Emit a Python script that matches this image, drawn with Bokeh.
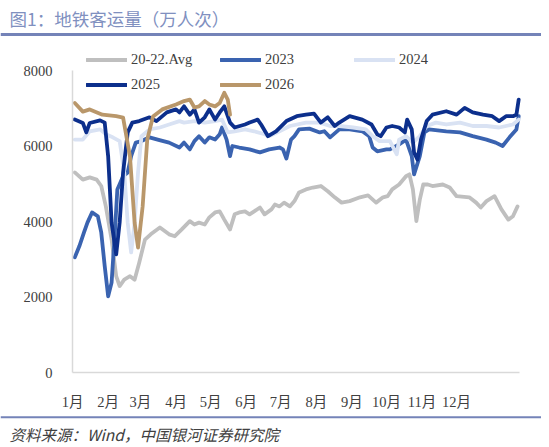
from bokeh.plotting import figure
from bokeh.models import (Range1d, Legend, LegendItem, BoxAnnotation, FixedTicker,
                          NumeralTickFormatter, LinearAxis, Label)
from bokeh.embed import file_html
from bokeh.resources import INLINE

# ---------------- data ----------------
month_days = [0, 31, 59, 90, 120, 151, 181, 212, 243, 273, 304, 334]
month_labels = ["1月", "2月", "3月", "4月", "5月", "6月", "7月", "8月", "9月", "10月", "11月", "12月"]
y_ticks = [0, 2000, 4000, 6000, 8000]
x_extent = (0, 389)
y_extent = (0, 8000)

series_names = ["20-22.Avg", "2023", "2024", "2025", "2026"]

avg_days = [2, 9, 15, 21, 25, 29, 34, 38, 41, 45, 50, 54, 58, 63, 68, 76, 84, 89, 95, 102,
            106, 110, 115, 119, 124, 128, 132, 137, 141, 145, 150, 154, 158, 163, 167, 173, 176, 180, 184, 189,
            193, 197, 203, 209, 216, 222, 228, 234, 241, 250, 257, 264, 270, 274, 278, 284, 290, 293, 296, 299,
            302, 305, 309, 313, 322, 328, 334, 345, 351, 355, 360, 367, 373, 379, 383, 387]
avg_vals = [5300, 5110, 5170, 5110, 4940, 4400, 3520, 2550, 2290, 2460, 2550, 2460, 2910, 3520, 3660, 3840, 3660, 3610, 3790, 4010,
            3920, 3970, 3920, 4110, 4240, 4270, 4050, 3790, 4190, 4240, 4270, 4190, 4270, 4370, 4190, 4320, 4450, 4400, 4500, 4400,
            4540, 4770, 4850, 4900, 4940, 4800, 4640, 4500, 4540, 4640, 4690, 4500, 4640, 4670, 4850, 4980, 5200, 5250, 4850, 4010,
            4580, 4980, 4980, 4940, 4980, 4900, 4670, 4640, 4500, 4370, 4540, 4670, 4320, 4050, 4140, 4400]

y2023_days = [2, 6, 10, 13, 17, 22, 25, 28, 31, 34, 37, 39, 44, 48, 51, 55, 60, 67, 74, 84,
              93, 97, 102, 106, 110, 115, 119, 124, 128, 130, 134, 137, 139, 145, 154, 163, 171, 180, 183, 186,
              190, 193, 197, 206, 215, 219, 224, 232, 241, 252, 258, 261, 265, 273, 276, 284, 290, 295, 297, 302,
              306, 310, 325, 337, 348, 360, 368, 374, 380, 386, 388]
y2023_vals = [3050, 3350, 3710, 3970, 4240, 4140, 3710, 2820, 2020, 2380, 3790, 4850, 5200, 5300, 5730, 6090, 6130, 6230, 6170, 6090,
              5960, 6090, 5910, 6130, 6260, 6090, 6230, 6170, 6310, 6490, 6170, 5730, 6000, 5960, 5910, 5830, 5910, 5960, 5910, 5670,
              6170, 6260, 6440, 6460, 6360, 6390, 6230, 6440, 6440, 6390, 6260, 5960, 5860, 5910, 5910, 6040, 6170, 5730, 5250, 5730,
              6360, 6440, 6390, 6360, 6260, 6170, 6090, 6000, 6230, 6440, 6790]

y2024_days = [2, 9, 15, 24, 29, 35, 41, 45, 48, 51, 54, 57, 60, 67, 76, 84, 93, 97, 106, 115,
              124, 130, 135, 141, 150, 158, 167, 171, 180, 189, 203, 215, 224, 232, 244, 255, 261, 267, 276, 282,
              284, 290, 296, 302, 308, 316, 325, 337, 348, 360, 371, 383, 388]
y2024_vals = [6170, 6170, 6390, 6440, 6310, 6230, 6130, 5300, 3970, 3180, 3970, 5300, 6260, 6440, 6490, 6570, 6660, 6620, 6660, 6620,
              6660, 6700, 6360, 6390, 6440, 6390, 6310, 6260, 6390, 6530, 6620, 6620, 6530, 6530, 6490, 6440, 6260, 6130, 6130, 5780,
              6170, 6260, 6090, 6260, 6530, 6620, 6570, 6620, 6530, 6530, 6490, 6570, 6700]

y2025_days = [2, 9, 12, 15, 24, 28, 31, 34, 38, 41, 44, 48, 52, 58, 67, 73, 82, 90, 93, 97,
              102, 106, 110, 115, 119, 124, 128, 132, 137, 141, 150, 154, 161, 164, 170, 177, 186, 195, 203, 210,
              216, 222, 228, 232, 241, 252, 260, 265, 268, 273, 278, 284, 289, 291, 295, 297, 300, 303, 308, 313,
              325, 334, 341, 348, 357, 365, 371, 377, 383, 386, 388]
y2025_vals = [6700, 6610, 6360, 6610, 6680, 6620, 5730, 3970, 3130, 3970, 5300, 6360, 6620, 6660, 6760, 6660, 6890, 6970, 6890, 7050,
              6830, 6970, 6620, 6760, 6970, 6700, 6890, 7050, 6620, 6490, 6570, 6620, 6700, 6570, 6260, 6390, 6660, 6790, 6830, 6860,
              6620, 6760, 6530, 6620, 6790, 6700, 6570, 6310, 6260, 6490, 6530, 6490, 6360, 6700, 6440, 5830, 5640, 6170, 6660, 6830,
              6920, 6830, 7010, 6890, 6830, 6790, 6660, 6790, 6790, 6830, 7230]

y2026_days = [2, 9, 15, 26, 38, 44, 50, 54, 57, 61, 65, 70, 78, 90, 97, 102, 106, 110, 115, 119,
              124, 128, 132, 135, 137]
y2026_vals = [7140, 6910, 6970, 6830, 6790, 6750, 5720, 3970, 3310, 4400, 6170, 6780, 6970, 7100, 7190, 7230, 7020, 7050, 7190, 7100,
              7050, 7140, 7410, 7230, 6830]

title_text = "图1：地铁客运量（万人次）"
source_text = "资料来源：Wind，中国银河证券研究院"

# ---------------- layout / style ----------------
W, H = 541, 445                    # canvas size
ORIGIN_CX, ORIGIN_CY = 72, 372     # canvas pixel of (day 0, value 0)
PX_PER_DAY = 1.15
PX_PER_UNIT = 302 / 8000.0

def dx(cx):
    return (cx - ORIGIN_CX) / PX_PER_DAY

def dy(cy):
    return (ORIGIN_CY - cy) / PX_PER_UNIT

colors = ["#bfbfbf", "#3a63b0", "#d9e2f3", "#0c2f8c", "#b9976a"]
SERIF = "Liberation Serif, Noto Sans CJK SC"
CJK = "Noto Sans CJK SC"
TXT = "#404040"
RULE = "#7483b8"

p = figure(width=W, height=H, x_range=Range1d(dx(0), dx(W)), y_range=Range1d(dy(H), dy(0)),
           x_axis_type=None, y_axis_type=None, output_backend="svg", toolbar_location=None,
           min_border=0)
p.outline_line_color = None
p.grid.visible = False
p.background_fill_color = "white"
p.border_fill_color = "white"

xaxis = LinearAxis(fixed_location=0, bounds=x_extent, ticker=FixedTicker(ticks=month_days))
xaxis.major_label_overrides = {d: lab for d, lab in zip(month_days, month_labels)}
xaxis.major_label_standoff = 21
yaxis = LinearAxis(fixed_location=0, bounds=y_extent, ticker=FixedTicker(ticks=y_ticks),
                   formatter=NumeralTickFormatter(format="0"))
yaxis.major_label_standoff = 20
for ax in (xaxis, yaxis):
    ax.axis_line_color = "#d9d9d9"
    ax.axis_line_width = 1.5
    ax.major_tick_line_color = None
    ax.minor_tick_line_color = None
    ax.major_tick_out = 0
    ax.major_tick_in = 0
    ax.major_label_text_font = SERIF
    ax.major_label_text_font_size = "14.5px"
    ax.major_label_text_color = TXT
p.add_layout(xaxis, "below")
p.add_layout(yaxis, "left")

all_days = [avg_days, y2023_days, y2024_days, y2025_days, y2026_days]
all_vals = [avg_vals, y2023_vals, y2024_vals, y2025_vals, y2026_vals]

items = []
for name, xs, ys, c in zip(series_names, all_days, all_vals, colors):
    r = p.line(xs, ys, line_color=c, line_width=3.8, line_join="round", line_cap="round")
    items.append(LegendItem(label=name, renderers=[r]))

legend = Legend(items=items, orientation="horizontal", ncols=3,
                location=(86, H - 94.5), padding=0, margin=0, spacing=4,
                glyph_width=41, glyph_height=21, label_standoff=4, label_width=85, label_height=21,
                label_text_font=SERIF, label_text_font_size="14.5px", label_text_color=TXT,
                background_fill_alpha=0, border_line_color=None)
p.add_layout(legend, "center")

# title, source and separator rules
p.add_layout(Label(x=dx(9), y=dy(18), text=title_text, text_font=CJK, text_font_size="17.5px",
                   text_color="#8090bf", text_baseline="middle", text_align="left"))
p.add_layout(BoxAnnotation(top=dy(32.5), bottom=dy(35.5), fill_color=RULE, fill_alpha=1, line_color=None))
p.add_layout(BoxAnnotation(top=dy(415.7), bottom=dy(417.7), fill_color=RULE, fill_alpha=1, line_color=None))
p.add_layout(Label(x=dx(9), y=dy(433.5), text=source_text, text_font=CJK, text_font_size="15.5px",
                   text_color=TXT, text_font_style="italic", text_baseline="middle", text_align="left"))

open("out.html", "w").write(file_html(p, INLINE))
